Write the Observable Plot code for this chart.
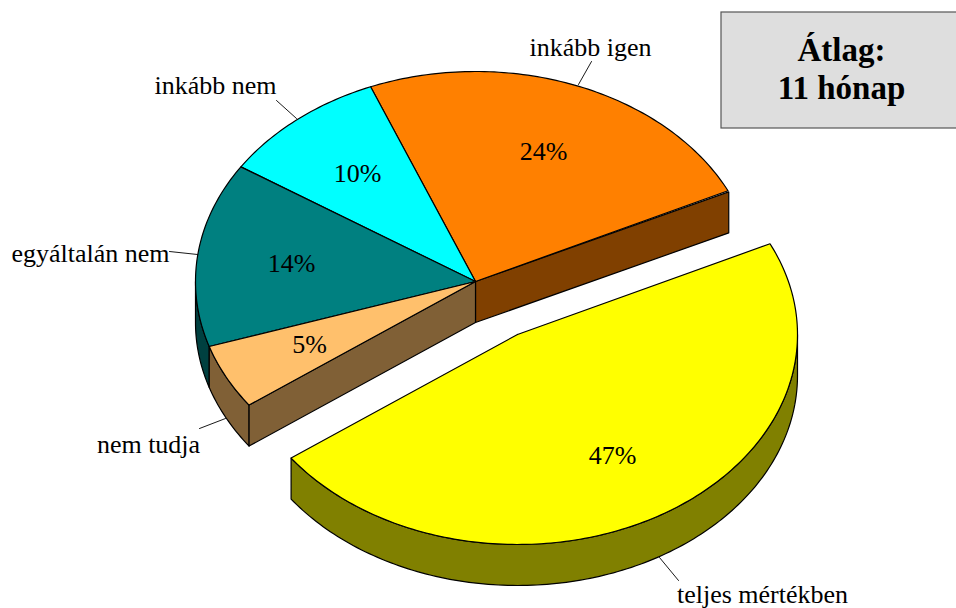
<!DOCTYPE html>
<html>
<head>
<meta charset="utf-8">
<script src="https://cdn.jsdelivr.net/npm/d3@7"></script>
<script src="https://cdn.jsdelivr.net/npm/@observablehq/plot@0.6"></script>
<style>html,body{margin:0;padding:0;background:#fff}svg{display:block}</style>
</head>
<body>
<div id="chart"></div>
<script>
const categories = ["inkább igen", "inkább nem", "egyáltalán nem", "nem tudja", "teljes mértékben"];
const values = [24.0, 9.7, 14.2, 5.0, 47.1];
const topColors = ["#ff8000", "#00ffff", "#008080", "#ffc06c", "#ffff00"];
const sideColors = ["#804000", "#008080", "#004040", "#806036", "#808000"];
const boxLines = ["Átlag:", "11 hónap"];

// layout of the projected pie (drawing units equal pixels)
const startDeg = 25.6, rx = 280, ry = 210, depth = 41;
const centre = {x: 475, y: 281};
const exploded = {x: 517, y: 334};
const labelAt = [[590, 47], [215, 85], [90, 253], [148, 444], [762, 594]];
const pctAt = [[543, 151], [357, 173], [291, 263], [309, 344], [612, 455]];
const leaders = [[[591, 61], [578, 84]], [[276, 100], [296, 118]], [[169, 251], [197, 254]], [[199, 428], [225, 418]], [[678, 580], [659, 557]]];

const rim = (c, deg, drop = 0) => ({
  x: c.x + rx * Math.cos(deg * Math.PI / 180),
  y: c.y - ry * Math.sin(deg * Math.PI / 180) + drop
});
const arc = (c, a, b, drop = 0) => {
  const n = Math.max(2, Math.ceil(Math.abs(b - a)));
  return d3.range(n + 1).map(i => rim(c, a + (b - a) * i / n, drop));
};
const closed = pts => [...pts, pts[0]];
const poly = (pts, fill, sw = 1.2) => Plot.line(closed(pts), {x: "x", y: "y", fill, stroke: "#000", strokeWidth: sw, strokeLinejoin: "round"});

let acc = startDeg;
const slices = values.map((v, i) => {
  const a = acc, b = acc + v * 3.6;
  acc = b;
  return {a, b, c: i === 4 ? exploded : centre, top: topColors[i], side: sideColors[i]};
});

const down = (p) => ({x: p.x, y: p.y + depth});
const marks = [];

// exploded slice: outer wall, then top
const s4 = slices[4];
marks.push(poly([...arc(s4.c, s4.a, 360), ...arc(s4.c, 360, s4.a, depth)], s4.side));
marks.push(poly([s4.c, ...arc(s4.c, s4.a, s4.b)], s4.top));

// radial wall of the first slice; the top sits a hair above it
const s0 = slices[0], e0 = rim(centre, s0.a - 0.35);
marks.push(poly([centre, e0, down(e0), down(centre)], s0.side));

// outer walls on the left
const s2 = slices[2], s3 = slices[3];
marks.push(poly([...arc(centre, 180, s2.b), ...arc(centre, s2.b, 180, depth)], s2.side));
marks.push(poly([...arc(centre, s3.a, s3.b), ...arc(centre, s3.b, s3.a, depth)], s3.side));

// radial wall of the small slice
const e3 = rim(centre, s3.b);
marks.push(poly([centre, e3, down(e3), down(centre)], s3.side));

// tops of the main pie
for (const s of slices.slice(0, 4)) marks.push(poly([s.c, ...arc(s.c, s.a, s.b)], s.top));

// leader lines
for (const l of leaders) marks.push(Plot.line(l.map(([x, y]) => ({x, y})), {x: "x", y: "y", stroke: "#000", strokeWidth: 0.9}));

// labels
const font = {fontFamily: "'Liberation Serif','Times New Roman',serif", fontSize: 26, fill: "#000", textAnchor: "middle", lineAnchor: "middle"};
marks.push(Plot.text(categories.map((t, i) => ({t, x: labelAt[i][0], y: labelAt[i][1]})), {x: "x", y: "y", text: "t", ...font}));
marks.push(Plot.text(values.map((v, i) => ({t: Math.round(v) + "%", x: pctAt[i][0], y: pctAt[i][1]})), {x: "x", y: "y", text: "t", ...font}));

// average box
marks.push(Plot.rect([{x1: 721, x2: 962, y1: 12, y2: 128}], {x1: "x1", x2: "x2", y1: "y1", y2: "y2", fill: "#dedede", stroke: "#555", strokeWidth: 1.2}));
marks.push(Plot.text(boxLines.map((t, i) => ({t, x: 841, y: 50 + i * 38})), {x: "x", y: "y", text: "t", ...font, fontSize: 33, fontWeight: "bold"}));

const chart = Plot.plot({
  width: 956, height: 608,
  marginTop: 0, marginRight: 0, marginBottom: 0, marginLeft: 0,
  x: {domain: [0, 956], range: [0, 956], axis: null},
  y: {domain: [0, 608], range: [0, 608], axis: null},
  style: {background: "#fff"},
  marks
});
document.getElementById("chart").append(chart);
</script>
</body>
</html>
